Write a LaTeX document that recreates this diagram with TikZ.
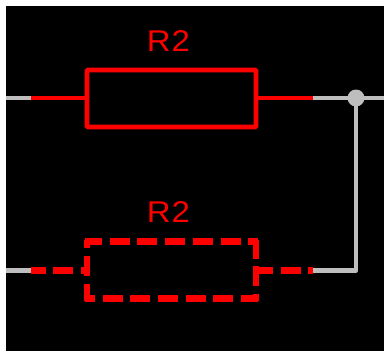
\documentclass[tikz,border=0pt]{standalone}
\usepackage{fontspec}
\setmainfont{Liberation Sans}
\usepackage{xcolor}
\definecolor{wiregray}{HTML}{BEBEBE}
\tikzset{
  wire/.style={wiregray,line width=4.5pt},
  redwire/.style={red,line width=4.5pt},
  dashwire/.style={red,line width=6.2pt,dash pattern=on 20pt off 7.7pt,dash phase=#1},
  dashwire/.default=3pt,
  part/.style={minimum width=169pt,minimum height=57pt,inner sep=0pt,outer sep=0pt},
  partlabel/.style={red,font=\fontsize{30}{30}\selectfont\addfontfeature{FakeStretch=1.1,LetterSpace=3},inner sep=0pt}
}
\begin{document}
\begin{tikzpicture}[x=1pt,y=-1pt]
      \useasboundingbox (0,0) rectangle (384,351);
      \fill [black] (6,6) rectangle (384,351);
      \coordinate (topin) at (6,98);
      \coordinate (topleft) at (31,98);
      \coordinate (topright) at (313,98);
      \coordinate (topout) at (384,98);
      \coordinate (lowin) at (6,270.5);
      \coordinate (lowleft) at (31,270.5);
      \coordinate (lowright) at (313,270.5);
      \coordinate (lowcorner) at (356,270.5);
      \node [part,draw,red,line width=4.6pt,rounded corners=1pt] (rtop) at (171.5,98.5) {};
      \node [part] (rlow) at (171.5,270) {};
      \node [partlabel] (rtoplabel) at (168.5,41) {R2};
      \node [partlabel] (rlowlabel) at (168.5,212) {R2};
      \draw [redwire] (rtop.west |- topleft) -- (topleft);
      \draw [redwire] (rtop.east |- topright) -- (topright);
      \draw [wire] (topin) -- (topleft);
      \draw [wire] (topright) -- (topout);
      \draw [wire,line join=round] (lowright) -- (lowcorner) -- (356,98);
      \draw [wire] (lowin) -- (lowleft);
      \draw [dashwire=14pt] (rlow.west |- lowin) -- (lowleft);
      \draw [dashwire] (rlow.east |- lowin) -- (lowright);
      \draw [dashwire,shorten <=-2pt,shorten >=-2pt] (rlow.north west) -- (rlow.north east);
      \draw [dashwire=1pt,shorten <=-2pt,shorten >=-2pt] (rlow.north east) -- (rlow.south east);
      \draw [dashwire,shorten <=-2pt,shorten >=-2pt] (rlow.south east) -- (rlow.south west);
      \draw [dashwire,shorten <=-2pt,shorten >=-2pt] (rlow.south west) -- (rlow.north west);
      \node [circle,fill=wiregray,minimum size=17pt,inner sep=0pt] (joint) at (356,98) {};
    \end{tikzpicture}
\end{document}
